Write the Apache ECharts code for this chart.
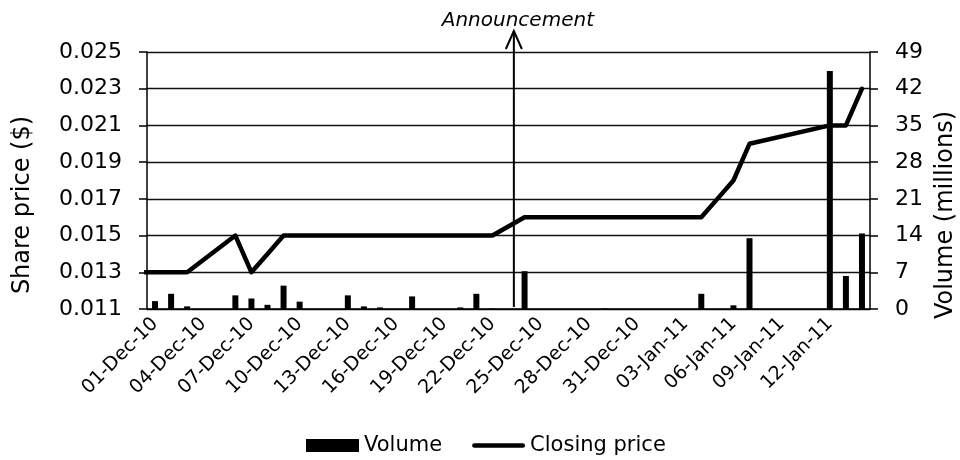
<!DOCTYPE html>
<html>
<head>
<meta charset="utf-8">
<script src="https://cdn.jsdelivr.net/npm/echarts@6/dist/echarts.min.js"></script>
<style>
  html, body { margin: 0; padding: 0; background: #fff; }
  #chart { width: 960px; height: 460px; }
</style>
</head>
<body>
<div id="chart"></div>
<script>
// Date range shown on the horizontal axis (one slot per calendar day)
const axisStart = '2010-12-01';
const axisEnd = '2011-01-14';

// Daily traded volume, millions of shares
const volumeDates = [
  '2010-12-01', '2010-12-02', '2010-12-03', '2010-12-06', '2010-12-07', '2010-12-08',
  '2010-12-09', '2010-12-10', '2010-12-13', '2010-12-14', '2010-12-15', '2010-12-17',
  '2010-12-20', '2010-12-21', '2010-12-22', '2010-12-24', '2010-12-29', '2011-01-04',
  '2011-01-06', '2011-01-07', '2011-01-12', '2011-01-13', '2011-01-14'
];
const volumeValues = [
  1.5, 2.9, 0.5, 2.6, 2.0, 0.8,
  4.45, 1.4, 2.6, 0.5, 0.3, 2.4,
  0.3, 2.9, 0.1, 7.2, 0.1, 2.9,
  0.7, 13.5, 45.4, 6.3, 14.4
];

// Closing share price, $
const priceDates = [
  '2010-11-30', '2010-12-01', '2010-12-02', '2010-12-03', '2010-12-06', '2010-12-07',
  '2010-12-08', '2010-12-09', '2010-12-10', '2010-12-13', '2010-12-14', '2010-12-15',
  '2010-12-16', '2010-12-17', '2010-12-20', '2010-12-21', '2010-12-22', '2010-12-24',
  '2010-12-27', '2010-12-28', '2010-12-29', '2010-12-30', '2010-12-31', '2011-01-03',
  '2011-01-04', '2011-01-05', '2011-01-06', '2011-01-07', '2011-01-12', '2011-01-13',
  '2011-01-14'
];
const priceValues = [
  0.013, 0.013, 0.013, 0.013, 0.015, 0.013,
  0.014, 0.015, 0.015, 0.015, 0.015, 0.015,
  0.015, 0.015, 0.015, 0.015, 0.015, 0.016,
  0.016, 0.016, 0.016, 0.016, 0.016, 0.016,
  0.016, 0.017, 0.018, 0.020, 0.021, 0.021,
  0.023
];

// Axis scales
const priceMin = 0.011, priceMax = 0.025, priceStep = 0.002;
const volumeMin = 0, volumeMax = 49, volumeStep = 7;
const tickEveryDays = 3;

// Announcement marker
const announcementTime = '2010-12-23T08:00:00Z';
const announcementText = 'Announcement';

const MONTHS = ['Jan','Feb','Mar','Apr','May','Jun','Jul','Aug','Sep','Oct','Nov','Dec'];
const DAY_MS = 86400000;
const t0 = Date.parse(axisStart);
const dayIndex = s => (Date.parse(s) - t0) / DAY_MS;
const fmtDay = t => {
  const d = new Date(t);
  const dd = String(d.getUTCDate()).padStart(2, '0');
  const yy = String(d.getUTCFullYear()).slice(2);
  return dd + '-' + MONTHS[d.getUTCMonth()] + '-' + yy;
};

const nDays = dayIndex(axisEnd) + 1;
const dayLabels = [];
for (let i = 0; i < nDays; i++) dayLabels.push(fmtDay(t0 + i * DAY_MS));

const volumeData = volumeDates.map((d, i) => [dayIndex(d), volumeValues[i]]);
const priceData = priceDates.map((d, i) => [dayIndex(d), priceValues[i]]);

const FONT = 'DejaVu Sans';
// thick stroke with rounded ends for the price legend key
const LINE_KEY = 'path://M2.5,0 L53.5,0 A2.5,2.5 0 0 1 53.5,5 L2.5,5 A2.5,2.5 0 0 1 2.5,0 Z';

const chart = echarts.init(document.getElementById('chart'), null, { renderer: 'canvas' });

chart.setOption({
  animation: false,
  backgroundColor: '#fff',
  grid: { left: 147, right: 90, top: 52, bottom: 151, containLabel: false },
  legend: {
    left: 306, top: 435, padding: 0,
    itemWidth: 53, itemHeight: 13, itemGap: 30,
    textStyle: { fontFamily: FONT, fontSize: 21, color: '#000' },
    data: [
      { name: 'Volume', icon: 'rect' },
      { name: 'Closing price', icon: LINE_KEY, itemStyle: { color: '#000' } }
    ]
  },
  xAxis: [
    {
      type: 'category',
      data: dayLabels,
      boundaryGap: true,
      axisLine: { onZero: false, lineStyle: { color: '#000', width: 1.5 } },
      axisTick: { interval: tickEveryDays - 1, length: 8, lineStyle: { color: '#000', width: 1.5 } },
      axisLabel: {
        interval: tickEveryDays - 1, rotate: 45, margin: 12,
        fontFamily: FONT, fontSize: 19, color: '#000'
      },
      splitLine: { show: false }
    },
    {
      type: 'value',
      min: -0.5, max: nDays - 0.5,
      show: false
    }
  ],
  yAxis: [
    {
      type: 'value', position: 'left',
      min: priceMin, max: priceMax, interval: priceStep,
      axisLine: { show: true, onZero: false, lineStyle: { color: '#000', width: 1.5 } },
      axisTick: { show: true, length: 8, lineStyle: { color: '#000', width: 1.5 } },
      axisLabel: {
        margin: 25, fontFamily: FONT, fontSize: 22, color: '#000',
        formatter: v => v.toFixed(3)
      },
      splitLine: { show: true, lineStyle: { color: '#111', width: 1.3 } }
    },
    {
      type: 'value', position: 'right',
      min: volumeMin, max: volumeMax, interval: volumeStep,
      axisLine: { show: true, onZero: false, lineStyle: { color: '#000', width: 1.5 } },
      axisTick: { show: true, length: 8, lineStyle: { color: '#000', width: 1.5 } },
      axisLabel: { margin: 25, fontFamily: FONT, fontSize: 22, color: '#000' },
      splitLine: { show: false }
    }
  ],
  graphic: [
    {
      type: 'text', x: 23, y: 205, rotation: Math.PI / 2,
      style: { text: 'Share price ($)', font: '24px "DejaVu Sans"', fill: '#000', align: 'center', verticalAlign: 'middle' }
    },
    {
      type: 'text', x: 946, y: 215, rotation: Math.PI / 2,
      style: { text: 'Volume (millions)', font: '24px "DejaVu Sans"', fill: '#000', align: 'center', verticalAlign: 'middle' }
    }
  ],
  series: [
    {
      name: 'Volume', type: 'bar',
      xAxisIndex: 1, yAxisIndex: 1,
      barWidth: 6,
      itemStyle: { color: '#000' },
      data: volumeData
    },
    {
      name: 'Closing price', type: 'line',
      xAxisIndex: 1, yAxisIndex: 0,
      symbol: 'none', clip: true,
      lineStyle: { color: '#000', width: 4.5, join: 'round', cap: 'round' },
      itemStyle: { color: '#000' },
      data: priceData
    },
    {
      name: 'announcement', type: 'custom',
      xAxisIndex: 1, yAxisIndex: 1,
      silent: true, clip: false,
      data: [[(Date.parse(announcementTime) - t0) / DAY_MS]],
      renderItem: function (params, api) {
        const x = api.coord([api.value(0), volumeMin])[0];
        const yBase = api.coord([api.value(0), volumeMin])[1];
        const yTop = api.coord([api.value(0), volumeMax])[1] - 21;
        return {
          type: 'group',
          children: [
            { type: 'line', shape: { x1: x, y1: yTop, x2: x, y2: yBase - 2 },
              style: { stroke: '#000', lineWidth: 2 } },
            { type: 'polyline', shape: { points: [[x - 8, yTop + 18], [x, yTop], [x + 8, yTop + 18]] },
              style: { stroke: '#000', lineWidth: 2, fill: null } },
            { type: 'text', x: x + 4, y: yTop - 10,
              style: { text: announcementText, font: 'italic 20px "DejaVu Sans"', fill: '#000',
                       align: 'center', verticalAlign: 'middle' } }
          ]
        };
      }
    }
  ]
});
</script>
</body>
</html>
